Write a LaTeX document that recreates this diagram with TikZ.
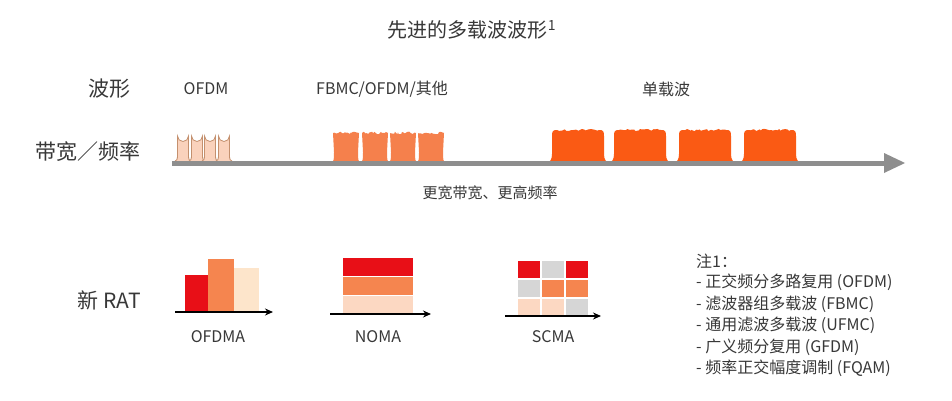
\documentclass[tikz,border=0pt]{standalone}
\usepackage{fontspec}
\setmainfont{Noto Sans CJK SC}
\usetikzlibrary{decorations.pathmorphing}
\definecolor{txt}{HTML}{383838}
\definecolor{axisgray}{HTML}{8E8E8E}
\definecolor{ofdmfill}{HTML}{FAD2BC}
\definecolor{ofdmline}{HTML}{C4906E}
\definecolor{fbmcfill}{HTML}{F5804C}
\definecolor{scfill}{HTML}{FA5A14}
\definecolor{cred}{HTML}{E80F17}
\definecolor{corange}{HTML}{F5854F}
\definecolor{ccream}{HTML}{FDE5CB}
\definecolor{cpeach}{HTML}{FCD8C2}
\definecolor{cgray}{HTML}{D6D6D6}
\newcommand{\ofdmpulse}[1]{%
  \filldraw[fill=ofdmfill,draw=ofdmline,line width=0.8pt]
    (#1-9,162) .. controls (#1-6,161) and (#1-5.5,159) .. (#1-5.5,155)
    -- (#1-5.5,136) arc[start angle=180,end angle=0,radius=5.5]
    -- (#1+5.5,155) .. controls (#1+5.5,159) and (#1+6,161) .. (#1+9,162) -- cycle;}
\newcommand{\fbmcpulse}[1]{%
  \fill[fbmcfill,decoration={random steps,segment length=1.6pt,amplitude=1.3pt}]
    (#1-15,163) .. controls (#1-12,162) and (#1-12,159) .. (#1-12,152)
    -- (#1-13,133) decorate {-- (#1+13,133)} -- (#1+12,152)
    .. controls (#1+12,159) and (#1+12,162) .. (#1+15,163) -- cycle;}
\newcommand{\scpulse}[1]{%
  \fill[scfill,decoration={random steps,segment length=2pt,amplitude=1.1pt}]
    (#1-32,163) .. controls (#1-28,162) and (#1-26,160) .. (#1-26,154)
    -- (#1-26,136) .. controls (#1-26,131) and (#1-25,130) .. (#1-21,130)
    decorate {-- (#1+21,130)}
    .. controls (#1+25,130) and (#1+26,131) .. (#1+26,136)
    -- (#1+26,154) .. controls (#1+26,160) and (#1+28,162) .. (#1+32,163) -- cycle;}
\tikzset{
  lbl/.style={text=txt,inner sep=0pt,font=\fontsize{16}{19}\selectfont},
  biglbl/.style={text=txt,inner sep=0pt,font=\fontsize{21}{25}\selectfont},
  notelbl/.style={text=txt,inner sep=0pt,anchor=west,font=\fontsize{16}{19}\selectfont},
  ratarrow/.style={line width=1.4pt,-{Stealth[length=8pt,width=7pt]}},
  cell/.style={line width=0pt}
}
\usetikzlibrary{arrows.meta}
\begin{document}
\begin{tikzpicture}[x=1pt,y=-1pt]
\useasboundingbox (0,0) rectangle (952,401);
\fill[white] (0,0) rectangle (952,401);
% title
\node[text=txt,inner sep=0pt,font=\fontsize{20}{24}\selectfont] (title) at (472,30) {先进的多载波波形\textsuperscript{1}};
% row labels
\node[biglbl,anchor=east] (wf) at (131,89) {波形};
\node[biglbl,anchor=east] (bw) at (141,152) {带宽／频率};
\node[lbl] (lofdm) at (206,89) {OFDM};
\node[lbl] (lfbmc) at (382,89) {FBMC/OFDM/其他};
\node[lbl] (lsc) at (666,89) {单载波};
% pulses
\foreach \c in {183,197,210,224} {\ofdmpulse{\c}}
\pgfmathsetseed{7}
\foreach \c in {346,375,403,431} {\fbmcpulse{\c}}
\foreach \c in {578,640,705,770} {\scpulse{\c}}
% axis
\coordinate (axs) at (172,163);
\coordinate (axe) at (884,163);
\draw[axisgray,line width=5pt] (axs) -- (axe);
\fill[axisgray] (884,153) -- (905,163) -- (884,173) -- cycle;
\node[lbl,font=\fontsize{15}{18}\selectfont] (wider) at (490,193) {更宽带宽、更高频率};
% new RAT
\node[biglbl,anchor=east] (rat) at (141,300) {新 RAT};
% OFDMA
\fill[cred] (185,275) rectangle (208,312);
\fill[corange] (208,259) rectangle (234,312);
\fill[ccream] (234,268) rectangle (259,312);
\coordinate (oa1) at (175,312);
\coordinate (oa2) at (273,312);
\draw[ratarrow] (oa1) -- (oa2);
\node[lbl] (ofdma) at (218,337) {OFDMA};
% NOMA
\fill[cred] (343,258) rectangle (413,276);
\fill[corange] (343,277) rectangle (413,295);
\fill[cpeach] (343,296) rectangle (413,313);
\coordinate (na1) at (330,314);
\coordinate (na2) at (431,314);
\draw[ratarrow] (na1) -- (na2);
\node[lbl] (noma) at (378,337) {NOMA};
% SCMA
\fill[cred] (518,261) rectangle (540,278);
\fill[cgray] (542,261) rectangle (564,278);
\fill[cred] (566,261) rectangle (588,278);
\fill[cgray] (518,280) rectangle (540,297);
\fill[corange] (542,280) rectangle (564,297);
\fill[corange] (566,280) rectangle (588,297);
\fill[cpeach] (518,299) rectangle (540,316);
\fill[cpeach] (542,299) rectangle (564,316);
\fill[cgray] (566,299) rectangle (588,316);
\coordinate (sa1) at (505,316);
\coordinate (sa2) at (601,316);
\draw[ratarrow] (sa1) -- (sa2);
\node[lbl] (scma) at (553,337) {SCMA};
% notes
\node[notelbl] (n0) at (696,261) {注1：};
\node[notelbl] (n1) at (696,282) {- 正交频分多路复用 (OFDM)};
\node[notelbl] (n2) at (696,304) {- 滤波器组多载波 (FBMC)};
\node[notelbl] (n3) at (696,325) {- 通用滤波多载波 (UFMC)};
\node[notelbl] (n4) at (696,347) {- 广义频分复用 (GFDM)};
\node[notelbl] (n5) at (696,368) {- 频率正交幅度调制 (FQAM)};
\end{tikzpicture}
\end{document}
